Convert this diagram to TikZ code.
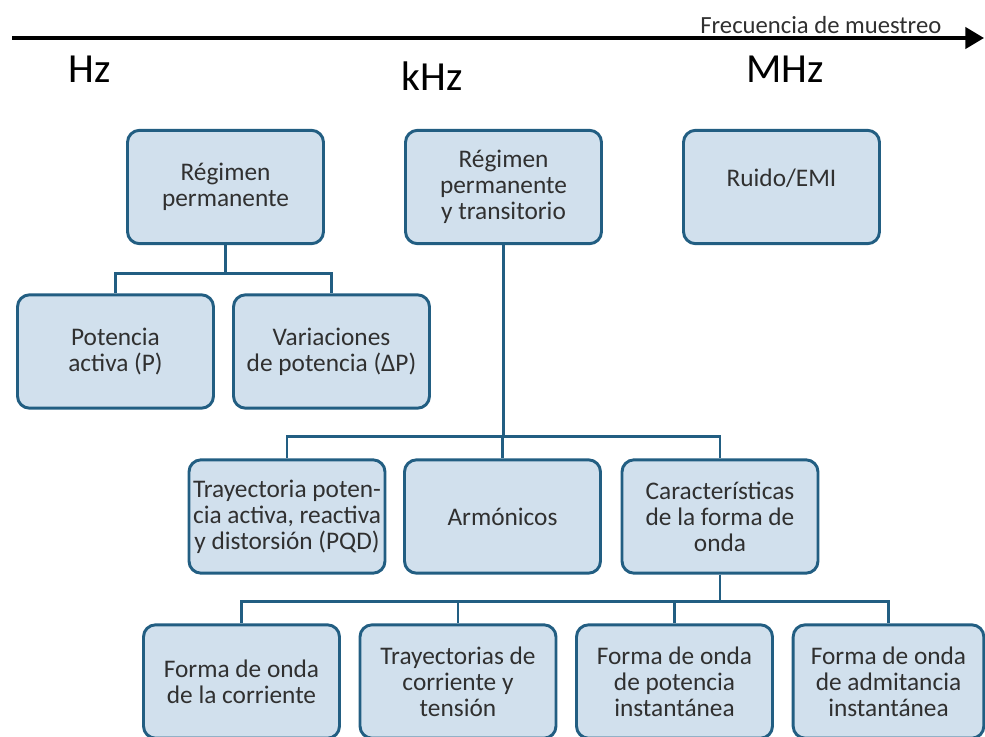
\documentclass[tikz,border=0pt]{standalone}
\usepackage{fontspec}
\setmainfont{Carlito}
\usepackage{tikz}
\usetikzlibrary{arrows.meta}
\definecolor{bordeazul}{RGB}{34,94,130}
\definecolor{rellenoazul}{RGB}{209,224,237}
\definecolor{textogris}{RGB}{48,48,48}
\tikzset{
  caja/.style={draw=bordeazul, fill=rellenoazul, line width=2.2pt, rounded corners=9pt,
    minimum width=147pt, minimum height=85pt, align=center, inner sep=1pt,
    text=textogris, font=\fontsize{19}{19.5}\selectfont},
  conector/.style={draw=bordeazul, line width=2.2pt},
  escala/.style={font=\fontsize{31}{31}\selectfont, anchor=base}
}

\begin{document}
\begin{tikzpicture}[x=0.75pt,y=0.75pt,yscale=-1]
            \useasboundingbox (0,0) rectangle (985,736);
            \clip (0,0) rectangle (985,736);

            %Axis: frecuencia de muestreo
            \coordinate (ejeA) at (12,38);
            \coordinate (ejeB) at (984,38);
            \draw [line width=2.4pt, -{Triangle[length=14pt,width=16pt]}] (ejeA) -- (ejeB);
            % Text Node
            \node (frec) at (946,33) [anchor=base east, text=textogris, font=\fontsize{18.5}{18.5}\selectfont] {Frecuencia de muestreo};
            % Text Node
            \node (hz) at (90,82) [escala] {Hz};
            % Text Node
            \node (khz) at (432,90) [escala] {kHz};
            % Text Node
            \node (mhz) at (785,82) [escala] {MHz};

            %Shape: Boxes, first row
            \node (rp) at (225.5,187) [caja] {Régimen\\permanente};
            \node (rpt) at (503.5,187) [caja] {Régimen\\permanente\\y transitorio};
            \node (ruido) at (781.5,187) [caja] {Ruido/EMI\\[-6pt]};

            %Shape: Boxes, second row
            \node (pa) at (115.5,351.5) [caja] {Potencia\\activa (P)};
            \node (vp) at (331.5,351.5) [caja] {Variaciones\\de potencia (ΔP)};

            %Shape: Boxes, third row
            \node (tp) at (287,516.5) [caja] {Trayectoria poten-\\cia activa, reactiva\\y distorsión (PQD)};
            \node (arm) at (502.5,516.5) [caja] {Armónicos};
            \node (car) at (720,516.5) [caja] {Características\\de la forma de\\onda};

            %Shape: Boxes, fourth row
            \node (fc) at (241.5,681.5) [caja] {Forma de onda\\de la corriente};
            \node (tc) at (458,681.5) [caja] {Trayectorias de\\corriente y\\tensión};
            \node (fp) at (674.5,681.5) [caja] {Forma de onda\\de potencia\\instantánea};
            \node (fa) at (888.5,681.5) [caja, minimum width=143pt] {Forma de onda\\de admitancia\\instantánea};

            %Straight Lines
            \draw [conector] (rp.south) -- ++(0,28) -| (pa.north);
            \draw [conector] (rp.south) -- ++(0,28) -| (vp.north);
            %Straight Lines
            \draw [conector] (rpt.south) -- ++(0,191) -| (tp.north);
            \draw [conector] (rpt.south) -- ++(0,191) -| (arm.north);
            \draw [conector] (rpt.south) -- ++(0,191) -| (car.north);
            %Straight Lines
            \draw [conector] (car.south) -- ++(0,27) -| (fc.north);
            \draw [conector] (car.south) -- ++(0,27) -| (tc.north);
            \draw [conector] (car.south) -- ++(0,27) -| (fp.north);
            \draw [conector] (car.south) -- ++(0,27) -| (fa.north);

\end{tikzpicture}
\end{document}
